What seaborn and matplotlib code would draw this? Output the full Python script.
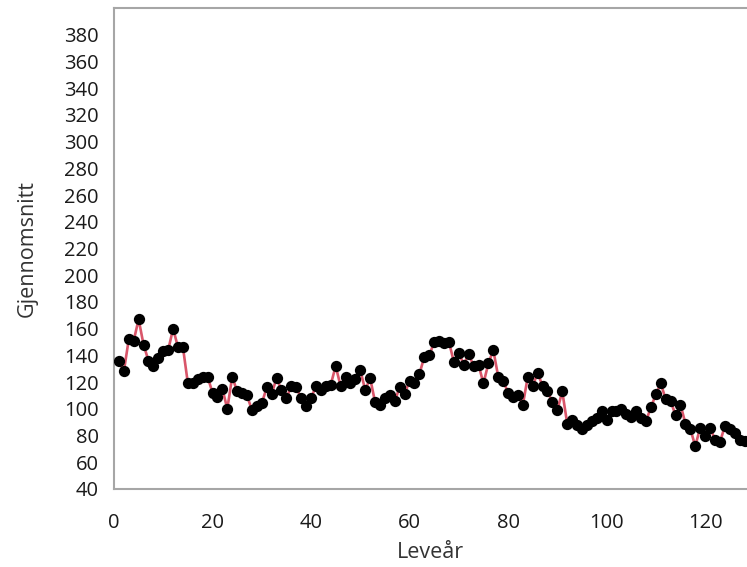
import numpy as np
import pandas as pd
import matplotlib
matplotlib.use("Agg")
import matplotlib.pyplot as plt
import seaborn as sns

# values (year of life 1..128)
levear = list(range(1, 129))
gjennomsnitt = [
    136, 128, 152, 151, 167, 148, 136, 132, 138, 143,
    144, 160, 146, 146, 119, 119, 122, 124, 124, 112,
    109, 115, 100, 124, 113, 112, 110, 99, 102, 104,
    116, 111, 123, 114, 108, 117, 116, 108, 102, 108,
    117, 114, 117, 118, 132, 117, 124, 119, 122, 129,
    114, 123, 105, 103, 108, 110, 106, 116, 111, 121,
    119, 126, 139, 140, 150, 151, 149, 150, 135, 142,
    133, 141, 132, 133, 119, 134, 144, 124, 121, 112,
    109, 110, 103, 124, 117, 127, 117, 113, 105, 99,
    113, 89, 92, 88, 85, 88, 91, 93, 98, 92,
    98, 98, 100, 96, 94, 98, 93, 91, 101, 111,
    119, 107, 106, 95, 103, 89, 85, 72, 86, 80,
    86, 77, 75, 87, 85, 82, 77, 76,
]
y_ticks = list(range(40, 401, 20))
x_ticks = list(range(0, 121, 20))

df = pd.DataFrame({"Leveår": levear, "Gjennomsnitt": gjennomsnitt})

sns.set_style("white")
plt.rcParams['font.family'] = ['Open Sans', 'DejaVu Sans']

fig = plt.figure(figsize=(7.47, 5.67), dpi=100)
ax = fig.add_axes([0.1526, 0.1376, 0.8474, 0.8483])

sns.lineplot(data=df, x="Leveår", y="Gjennomsnitt", color="#d9566a",
             linewidth=1.9, ax=ax, zorder=2)
sns.scatterplot(data=df, x="Leveår", y="Gjennomsnitt", color="black",
                s=66, edgecolor="black", linewidth=0, ax=ax, zorder=3)

ax.set_xlim(0, 128.5)
ax.set_ylim(40, 400)
ax.set_yticks(y_ticks)
ax.set_yticklabels([str(t) if t < 400 else "" for t in y_ticks])
ax.set_xticks(x_ticks)
ax.set_xticks(range(10, 130, 20), minor=True)
ax.set_yticks(range(50, 400, 20), minor=True)

grey = "#a6a6a6"
for side in ["left", "bottom", "top"]:
    ax.spines[side].set_color(grey)
    ax.spines[side].set_linewidth(1.5)
ax.spines["right"].set_visible(False)

ax.tick_params(axis="both", which="major", direction="out", length=8,
               width=1.4, color=grey, labelsize=14.5, labelcolor="#1a1a1a")
ax.tick_params(axis="both", which="minor", direction="out", length=4,
               width=1.4, color=grey)
ax.tick_params(axis="y", which="major", pad=3)
ax.tick_params(axis="x", which="major", pad=9)

ax.set_xlabel("Leveår", fontsize=15.5, color="#333333", labelpad=7)
ax.set_ylabel("Gjennomsnitt", fontsize=15.5, color="#333333", labelpad=19)

fig.savefig("out.png", dpi=100)
